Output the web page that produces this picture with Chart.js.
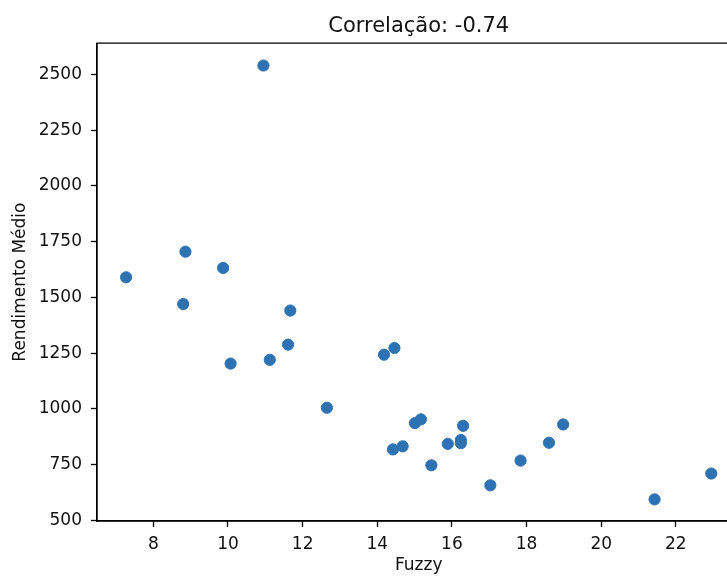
<!DOCTYPE html>
<html>
<head>
<meta charset="utf-8">
<script src="https://cdn.jsdelivr.net/npm/chart.js@4.4.0/dist/chart.umd.min.js"></script>
<style>
  html, body { margin: 0; padding: 0; background: #fff; overflow: hidden; width: 727px; height: 576px; }
  #wrap { width: 747px; height: 576px; }
</style>
</head>
<body>
<div id="wrap"><canvas id="c"></canvas></div>
<script>
const titleText = 'Correlação: -0.74';
const xLabel = 'Fuzzy';
const yLabel = 'Rendimento Médio';

const fuzzy = [7.27, 8.80, 8.86, 9.87, 10.07, 10.95, 11.12, 11.61, 11.67, 12.65,
               14.18, 14.46, 14.42, 14.68, 15.01, 15.17, 15.45, 15.89, 16.24, 16.24,
               16.30, 17.03, 17.84, 18.60, 18.98, 21.43, 22.95];
const rendimento = [1590, 1470, 1705, 1632, 1203, 2540, 1220, 1288, 1441, 1005,
                    1243, 1273, 818, 832, 936, 953, 747, 843, 860, 846,
                    924, 657, 768, 848, 930, 594, 710];

const xTicks = [8, 10, 12, 14, 16, 18, 20, 22];
const yTicks = [500, 750, 1000, 1250, 1500, 1750, 2000, 2250, 2500];

const points = fuzzy.map((x, i) => ({ x: x, y: rendimento[i] }));
const FONT = 'DejaVu Sans';
const AX = '#000';

const borderPlugin = {
  id: 'frame',
  afterDraw(chart) {
    const { ctx, chartArea: a } = chart;
    ctx.save();
    ctx.strokeStyle = AX;
    ctx.lineWidth = 1.3;
    ctx.beginPath();
    ctx.moveTo(a.left, a.bottom);
    ctx.lineTo(a.left, a.top);
    ctx.lineTo(a.right, a.top);
    ctx.lineTo(a.right, a.bottom);
    ctx.closePath();
    ctx.stroke();
    ctx.restore();
  }
};

new Chart(document.getElementById('c'), {
  type: 'scatter',
  data: {
    datasets: [{
      data: points,
      backgroundColor: '#2d72b3',
      borderColor: '#2d72b3',
      borderWidth: 1,
      pointRadius: 5.6,
      pointHoverRadius: 5.6
    }]
  },
  options: {
    responsive: true,
    maintainAspectRatio: false,
    animation: false,
    devicePixelRatio: 1,
    layout: { padding: { left: 0, right: 0, top: 0, bottom: 0 } },
    plugins: {
      legend: { display: false },
      tooltip: { enabled: false },
      title: {
        display: true,
        text: titleText,
        fullSize: false,
        color: '#111',
        font: { family: FONT, size: 21, weight: 'normal', lineHeight: 1.2 },
        padding: { top: 14, bottom: 4 }
      }
    },
    scales: {
      x: {
        type: 'linear',
        min: 6.49,
        max: 23.73,
        afterBuildTicks: s => { s.ticks = xTicks.map(v => ({ value: v })); },
        afterFit: s => { s.height = 55; },
        grid: { drawOnChartArea: false, drawTicks: true, tickLength: 6, tickWidth: 1.3, tickColor: AX },
        border: { display: true, color: AX, width: 1.3 },
        ticks: { color: '#111', font: { family: FONT, size: 17 }, padding: 7, maxRotation: 0, callback: v => String(v) },
        title: { display: true, text: xLabel, color: '#111', font: { family: FONT, size: 17, lineHeight: 1.2 }, padding: { top: 0, bottom: 0 } }
      },
      y: {
        type: 'linear',
        min: 497,
        max: 2640,
        afterBuildTicks: s => { s.ticks = yTicks.map(v => ({ value: v })); },
        afterFit: s => { s.width = 97; },
        grid: { drawOnChartArea: false, drawTicks: true, tickLength: 6, tickWidth: 1.3, tickColor: AX },
        border: { display: true, color: AX, width: 1.3 },
        ticks: { color: '#111', font: { family: FONT, size: 17 }, padding: 9, callback: v => String(v) },
        title: { display: true, text: yLabel, color: '#111', font: { family: FONT, size: 17, lineHeight: 1.2 }, padding: { top: 10, bottom: 0 } }
      }
    }
  },
  plugins: [borderPlugin]
});
</script>
</body>
</html>
